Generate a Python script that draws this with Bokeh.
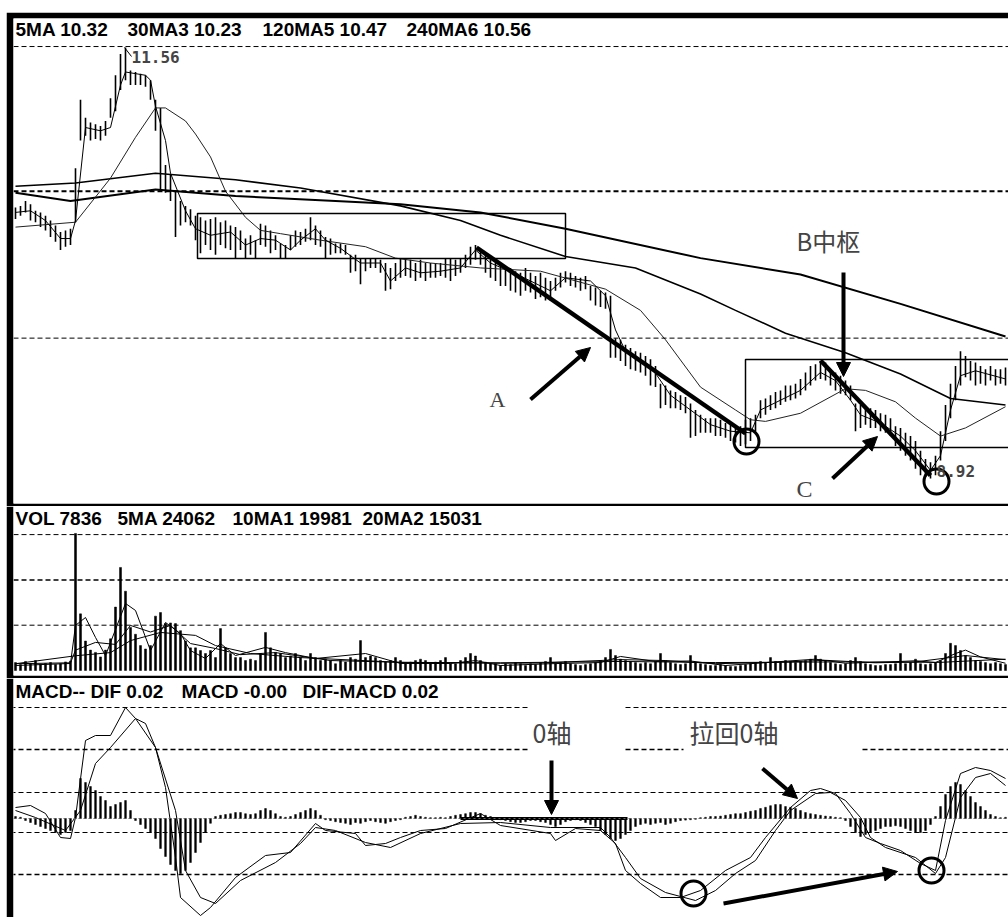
from bokeh.plotting import figure
from bokeh.layouts import column, row
from bokeh.models import Range1d, Span, Label, Arrow, NormalHead, BoxAnnotation, Spacer
from bokeh.embed import file_html
from bokeh.resources import INLINE

# ---------------- price bars (high / low) ----------------
high = [10.58, 10.59, 10.62, 10.60, 10.56, 10.55, 10.53, 10.50, 10.47, 10.43,
        10.44, 10.45, 10.82, 11.24, 11.13, 11.10, 11.09, 11.08, 11.11, 11.25,
        11.39, 11.52, 11.56, 11.42, 11.41, 11.40, 11.39, 11.36, 11.24, 11.19,
        10.84, 10.78, 10.68, 10.62, 10.59, 10.57, 10.53, 10.52, 10.50, 10.51,
        10.52, 10.49, 10.50, 10.47, 10.46, 10.44, 10.39, 10.41, 10.38, 10.48,
        10.47, 10.44, 10.41, 10.36, 10.35, 10.41, 10.44, 10.43, 10.45, 10.52,
        10.47, 10.44, 10.40, 10.39, 10.36, 10.36, 10.35, 10.29, 10.29, 10.27,
        10.27, 10.27, 10.27, 10.26, 10.24, 10.21, 10.24, 10.27, 10.27, 10.26,
        10.24, 10.26, 10.24, 10.24, 10.24, 10.24, 10.27, 10.27, 10.26, 10.27,
        10.29, 10.34, 10.35, 10.32, 10.29, 10.27, 10.24, 10.24, 10.22, 10.21,
        10.19, 10.18, 10.21, 10.18, 10.16, 10.18, 10.15, 10.13, 10.15, 10.18,
        10.19, 10.18, 10.16, 10.15, 10.16, 10.10, 10.09, 10.07, 10.06, 10.04,
        9.78, 9.77, 9.74, 9.72, 9.70, 9.69, 9.67, 9.65, 9.61, 9.50,
        9.49, 9.46, 9.45, 9.43, 9.42, 9.38, 9.34, 9.31, 9.29, 9.29,
        9.29, 9.28, 9.26, 9.26, 9.24, 9.24, 9.28, 9.29, 9.31, 9.40,
        9.41, 9.43, 9.45, 9.46, 9.49, 9.49, 9.50, 9.53, 9.57, 9.61,
        9.62, 9.64, 9.63, 9.59, 9.57, 9.55, 9.52, 9.49, 9.38, 9.37,
        9.36, 9.35, 9.34, 9.32, 9.31, 9.29, 9.24, 9.23, 9.20, 9.18,
        9.15, 9.09, 9.04, 9.02, 9.06, 9.21, 9.37, 9.50, 9.61, 9.70,
        9.67, 9.64, 9.63, 9.61, 9.59, 9.61, 9.59, 9.59, 9.60]
low = [10.51, 10.53, 10.55, 10.50, 10.49, 10.46, 10.44, 10.40, 10.37, 10.32,
       10.34, 10.35, 10.49, 10.99, 11.02, 10.99, 11.00, 10.99, 11.02, 11.13,
       11.17, 11.30, 11.36, 11.33, 11.33, 11.33, 11.32, 11.24, 11.05, 10.68,
       10.67, 10.62, 10.40, 10.47, 10.49, 10.47, 10.38, 10.30, 10.35, 10.32,
       10.29, 10.35, 10.33, 10.32, 10.27, 10.32, 10.27, 10.29, 10.27, 10.35,
       10.34, 10.30, 10.32, 10.27, 10.27, 10.32, 10.34, 10.35, 10.37, 10.38,
       10.35, 10.34, 10.27, 10.29, 10.30, 10.30, 10.29, 10.18, 10.19, 10.11,
       10.19, 10.21, 10.21, 10.18, 10.07, 10.08, 10.13, 10.15, 10.16, 10.15,
       10.13, 10.15, 10.13, 10.15, 10.15, 10.16, 10.15, 10.13, 10.16, 10.18,
       10.21, 10.23, 10.26, 10.23, 10.18, 10.15, 10.13, 10.10, 10.10, 10.07,
       10.06, 10.04, 10.07, 10.06, 10.02, 10.03, 10.01, 10.01, 10.07, 10.09,
       10.12, 10.10, 10.09, 10.07, 10.08, 10.01, 9.98, 9.97, 9.96, 9.66,
       9.66, 9.64, 9.61, 9.59, 9.58, 9.57, 9.55, 9.49, 9.48, 9.35,
       9.37, 9.35, 9.35, 9.34, 9.32, 9.17, 9.18, 9.20, 9.20, 9.20,
       9.18, 9.18, 9.17, 9.15, 9.14, 9.12, 9.13, 9.15, 9.21, 9.29,
       9.31, 9.34, 9.35, 9.37, 9.39, 9.40, 9.41, 9.43, 9.46, 9.49,
       9.52, 9.53, 9.52, 9.49, 9.46, 9.44, 9.43, 9.40, 9.21, 9.23,
       9.25, 9.23, 9.23, 9.21, 9.20, 9.18, 9.12, 9.09, 9.06, 9.03,
       8.98, 8.94, 8.93, 8.92, 8.94, 9.03, 9.15, 9.29, 9.40, 9.49,
       9.54, 9.52, 9.49, 9.50, 9.49, 9.52, 9.49, 9.50, 9.49]

# ---------------- price moving averages ----------------
ma5_x = [0, 3, 6, 9, 11, 12, 14, 17, 19, 21, 22, 26, 27, 28, 30, 31, 34, 36, 39, 43,
         46, 49, 52, 55, 57, 60, 62, 65, 69, 73, 75, 78, 81, 85, 89, 92, 95, 101, 107, 110,
         115, 118, 120, 122, 127, 131, 135, 139, 143, 147, 149, 153, 157, 161, 164, 167, 169,
         173, 177, 180, 183, 185, 187, 189, 192, 198]
ma5_y = [10.55, 10.56, 10.50, 10.39, 10.39, 10.50, 11.07, 11.05, 11.07, 11.33,
         11.41, 11.39, 11.36, 11.20, 10.99, 10.79, 10.56, 10.45, 10.41, 10.43,
         10.35, 10.39, 10.38, 10.32, 10.38, 10.45, 10.38, 10.33, 10.24, 10.24,
         10.13, 10.21, 10.18, 10.19, 10.21, 10.32, 10.24, 10.16, 10.07, 10.15,
         10.13, 10.04, 9.83, 9.70, 9.61, 9.43, 9.34, 9.25, 9.21, 9.20,
         9.34, 9.40, 9.46, 9.57, 9.52, 9.40, 9.31, 9.26, 9.18, 9.09,
         8.97, 9.06, 9.34, 9.55, 9.58, 9.53]
ma30_x = [0, 12, 19, 24, 28, 30, 34, 36, 39, 42, 46, 49, 53, 61, 70, 76, 83, 93, 105, 118,
          125, 130, 137, 144, 147, 150, 157, 166, 170, 176, 180, 185, 190, 198]
ma30_y = [10.46, 10.49, 10.76, 11.01, 11.19, 11.19, 11.11, 11.03, 10.89, 10.68,
          10.52, 10.44, 10.42, 10.38, 10.34, 10.27, 10.24, 10.21, 10.19, 10.08,
          9.95, 9.77, 9.48, 9.34, 9.28, 9.27, 9.32, 9.47, 9.46, 9.39,
          9.29, 9.18, 9.23, 9.36]
ma120_x = [0, 12, 28, 44, 57, 77, 89, 97, 110, 124, 137, 144, 154, 166, 177, 187, 198]
ma120_y = [10.71, 10.73, 10.79, 10.75, 10.70, 10.59, 10.50, 10.41, 10.28, 10.21,
           10.05, 9.95, 9.81, 9.69, 9.56, 9.41, 9.37]
ma240_x = [0, 11, 28, 44, 64, 77, 93, 110, 137, 157, 177, 198]
ma240_y = [10.67, 10.62, 10.69, 10.65, 10.62, 10.60, 10.55, 10.45, 10.27, 10.17, 9.99, 9.79]
price_grid = [11.566, 10.68, 9.78]

# ---------------- volume ----------------
volume = [3500, 2600, 4000, 3000, 4400, 2800, 3100, 3500, 2700, 3000,
          3800, 4200, 60500, 25000, 13000, 9000, 8000, 6000, 9000, 14000,
          28000, 45500, 35000, 19000, 16000, 11000, 9500, 11000, 24000, 25600,
          20700, 21000, 20700, 17600, 13000, 10000, 10000, 8800, 7500, 8800,
          5700, 18500, 10000, 7500, 5700, 5700, 4400, 5000, 4400, 7500,
          16800, 10000, 8000, 7500, 5700, 6400, 7500, 5700, 4400, 7500,
          5700, 4400, 5000, 4400, 3000, 4400, 3700, 5700, 5000, 13200,
          5700, 6400, 5700, 4400, 3700, 4400, 5700, 4400, 3000, 3700,
          4400, 5000, 4400, 3000, 3700, 4400, 5700, 3000, 3000, 4400,
          5700, 7500, 6400, 4400, 3700, 3000, 3000, 2200, 3000, 2600,
          3500, 3000, 2200, 3000, 2600, 3500, 4000, 5700, 3000, 3500,
          4000, 3000, 2600, 2200, 2600, 3000, 3500, 4400, 5700, 9300,
          6600, 5000, 4400, 4000, 3500, 3000, 3500, 3000, 4000, 7500,
          4400, 3500, 3000, 2600, 3000, 6600, 3500, 3000, 2600, 2200,
          2200, 2600, 2200, 1800, 1800, 2200, 2600, 3000, 3500, 4000,
          3500, 5700, 4000, 3500, 4400, 4000, 3500, 4000, 4400, 5000,
          6600, 5000, 4400, 3500, 3000, 2600, 3000, 4400, 5700, 4000,
          3000, 2600, 2200, 2200, 2600, 2600, 3000, 7500, 3000, 3500,
          5000, 3000, 2600, 3000, 3500, 4400, 7500, 12000, 11000, 8800,
          6600, 5700, 4400, 4000, 3500, 3000, 3500, 3000, 2600]
vma5_x = [0, 11, 12, 14, 16, 18, 22, 24, 27, 30, 33, 35, 38, 41, 44, 50, 54, 60, 70, 77,
          87, 92, 97, 107, 117, 121, 128, 135, 142, 150, 160, 166, 170, 177, 180, 184, 188,
          190, 193, 198]
vma5_y = [2200, 3100, 19900, 23400, 14600, 6600, 29600, 26500, 8800, 21200,
          16300, 8800, 5300, 11900, 6600, 10200, 7900, 5300, 7500, 3100,
          3100, 4400, 2200, 3000, 3500, 6200, 4000, 4200, 2200, 3500,
          5000, 3200, 3500, 4000, 4300, 3500, 7500, 9000, 6000, 3200]
vma10_x = [0, 11, 12, 16, 20, 23, 27, 31, 35, 40, 45, 52, 63, 77, 97, 105, 121, 130, 140,
           152, 162, 172, 180, 190, 198]
vma10_y = [3000, 3400, 9000, 12400, 11500, 19900, 17000, 19900, 11900, 9700,
           7000, 7900, 4400, 3600, 3200, 3300, 4800, 4400, 3000, 3600,
           4500, 3400, 3800, 6600, 4800]
vma20_x = [0, 12, 19, 23, 29, 36, 40, 47, 57, 77, 97, 121, 140, 165, 185, 198]
vma20_y = [3000, 6500, 7900, 13200, 16800, 15500, 11000, 7500, 5700, 3600,
           3400, 4000, 3500, 3800, 3600, 5000]
vol_grid = [60000, 40000, 20000]

# ---------------- MACD ----------------
macd_hist = [0.005, 0.003, -0.005, -0.01, -0.015, -0.02, -0.025, -0.03, -0.035, -0.04,
             -0.035, -0.03, 0.02, 0.1, 0.09, 0.08, 0.07, 0.055, 0.045, 0.03,
             0.035, 0.04, 0.045, 0.02, -0.005, -0.015, -0.025, -0.035, -0.05, -0.075,
             -0.095, -0.115, -0.13, -0.1375, -0.13, -0.11, -0.085, -0.06, -0.035, -0.012,
             0.005, 0.008, 0.01, 0.012, 0.015, 0.015, 0.012, 0.01, 0.012, 0.02,
             0.025, 0.02, 0.012, 0.005, 0.003, 0.005, 0.01, 0.015, 0.02, 0.025,
             0.02, 0.008, -0.003, -0.005, -0.008, -0.01, -0.012, -0.015, -0.01, -0.012,
             -0.008, -0.005, -0.008, -0.01, -0.012, -0.008, -0.005, -0.003, 0.003, 0.005,
             0.008, 0.005, 0.003, 0.002, 0.002, 0.003, 0.002, 0.005, 0.008, 0.01,
             0.012, 0.015, 0.015, 0.012, 0.008, 0.005, 0.002, -0.003, -0.005, -0.008,
             -0.01, -0.01, -0.008, -0.005, -0.005, -0.008, -0.01, -0.015, -0.02, -0.015,
             -0.008, -0.005, -0.003, -0.005, -0.01, -0.015, -0.02, -0.03, -0.04, -0.05,
             -0.055, -0.05, -0.04, -0.03, -0.02, -0.015, -0.012, -0.015, -0.012, -0.01,
             -0.015, -0.012, -0.008, -0.005, -0.004, -0.003, -0.002, 0.002, 0.003, 0.005,
             0.005, 0.006, 0.008, 0.01, 0.012, 0.012, 0.015, 0.018, 0.02, 0.025,
             0.028, 0.032, 0.035, 0.035, 0.03, 0.028, 0.025, 0.02, 0.015, 0.012,
             0.01, 0.008, 0.006, 0.005, 0.003, 0.002, -0.005, -0.02, -0.035, -0.045,
             -0.04, -0.035, -0.03, -0.025, -0.02, -0.02, -0.018, -0.02, -0.025, -0.03,
             -0.035, -0.035, -0.03, -0.015, 0.005, 0.03, 0.06, 0.08, 0.09, 0.085,
             0.07, 0.055, 0.04, 0.03, 0.02, 0.01, 0.005, 0.002, 0.003]
dif_x = [0, 3, 6, 9, 11, 12, 14, 16, 19, 22, 24, 28, 30, 32, 33, 37, 39, 44, 50, 55,
         60, 62, 68, 70, 74, 77, 81, 86, 93, 97, 107, 108, 112, 117, 120, 122, 125, 129, 133,
         137, 142, 147, 150, 155, 159, 161, 164, 167, 170, 173, 177, 181, 184, 186, 189, 192,
         195, 198]
dif_y = [0.0275, 0.0325, 0.0125, -0.0475, -0.05, 0.0025, 0.195, 0.2075, 0.2075, 0.2775,
         0.25, 0.1775, 0.0775, -0.0975, -0.1975, -0.2425, -0.2225, -0.1475, -0.0925, -0.085,
         -0.0125, -0.03, -0.0375, -0.0675, -0.0625, -0.0475, -0.03, -0.025, 0.0125, -0.0175,
         -0.0375, -0.055, -0.025, -0.03, -0.0625, -0.13, -0.1625, -0.1975, -0.1975, -0.18,
         -0.13, -0.0975, -0.0475, 0.0275, 0.07, 0.075, 0.0625, 0.0125, -0.0475, -0.0625,
         -0.08, -0.1125, -0.13, -0.005, 0.1125, 0.1275, 0.12, 0.10]
dea_x = [0, 4, 10, 13, 16, 19, 24, 26, 28, 32, 34, 37, 40, 45, 52, 57, 60, 64, 70, 75,
         81, 89, 97, 107, 117, 119, 122, 125, 130, 136, 140, 144, 148, 152, 155, 160, 163,
         166, 169, 171, 174, 180, 184, 186, 189, 192, 195, 198]
dea_y = [0.02, 0.0025, -0.03, 0.02, 0.1375, 0.1775, 0.25, 0.2375, 0.1775, 0.02,
         -0.13, -0.1975, -0.2125, -0.155, -0.11, -0.0625, -0.0225, -0.03, -0.06, -0.0725,
         -0.0375, -0.0125, -0.01, -0.0225, -0.0225, -0.0475, -0.0975, -0.15, -0.185, -0.205,
         -0.18, -0.1375, -0.105, -0.03, 0.02, 0.0625, 0.065, 0.045, 0.0025, -0.0475,
         -0.0725, -0.0975, -0.1375, -0.0975, 0.0525, 0.1025, 0.1125, 0.0825]
macd_grid = [0.2775, 0.1725, 0.065, -0.035, -0.14]

# ---------------- helpers for annotation placement ----------------
def bx(px):
    return (px - 15) / 5.0


def bp(py):
    return 11.848 - 0.006125 * py


def bv(py):
    return (670 - py) * 441.5


def bm(py):
    return (818 - py) * 0.0025


W = 1002
XR = Range1d(-0.4, 198.6)
idx = list(range(len(high)))
TITLE_FONT = "Liberation Sans"
CJK = "Noto Sans CJK SC"


def make_fig(h, yr, top, bottom):
    p = figure(width=W, height=h, x_range=XR, y_range=yr, output_backend="svg",
               toolbar_location=None, min_border_left=7, min_border_right=0,
               min_border_top=top, min_border_bottom=bottom,
               border_fill_color="black", background_fill_color="white",
               outline_line_color=None, x_axis_location=None, y_axis_location=None)
    p.grid.visible = False
    return p


def title(p, x, y, text):
    p.add_layout(Label(x=x, y=y, text=text, text_font=TITLE_FONT, text_font_style="bold",
                       text_font_size="19px", text_baseline="middle", text_align="left",
                       text_color="black"))


def arrow(p, x0, y0, x1, y1, lw=4, size=14):
    p.add_layout(Arrow(end=NormalHead(size=size, fill_color="black", line_color="black",
                                      line_width=1),
                       x_start=x0, y_start=y0, x_end=x1, y_end=y1,
                       line_width=lw, line_color="black"))


# ================= price panel =================
p1 = make_fig(494, Range1d(bp(503), bp(18)), 6, 3)
for i, g in enumerate(price_grid):
    p1.add_layout(Span(location=g, dimension="width", line_color="black",
                       line_dash="5 3", line_width=2 if i == 1 else 1))
p1.segment(x0=idx, y0=low, x1=idx, y1=high, line_color="black", line_width=1.6)
p1.line(ma240_x, ma240_y, line_color="black", line_width=2)
p1.line(ma120_x, ma120_y, line_color="black", line_width=1.6)
p1.line(ma30_x, ma30_y, line_color="#222222", line_width=1)
p1.line(ma5_x, ma5_y, line_color="black", line_width=1)

title(p1, bx(15), bp(29), "5MA 10.32")
title(p1, bx(127), bp(29), "30MA3 10.23")
title(p1, bx(262), bp(29), "120MA5 10.47")
title(p1, bx(406), bp(29), "240MA6 10.56")

p1.add_layout(BoxAnnotation(left=bx(197), right=bx(565), top=bp(213), bottom=bp(258),
                            fill_color=None, line_color="black", line_alpha=1,
                            line_width=1.5))
p1.add_layout(BoxAnnotation(left=bx(745), right=bx(1012), top=bp(359), bottom=bp(447),
                            fill_color=None, line_color="black", line_alpha=1,
                            line_width=1.5))

p1.line([bx(476), bx(745)], [bp(247), bp(433)], line_color="black", line_width=4.5)
p1.line([bx(820), bx(930)], [bp(360), bp(475)], line_color="black", line_width=4.5)
p1.line([bx(124), bx(131)], [bp(47), bp(56)], line_color="black", line_width=1)

arrow(p1, bx(530), bp(399), bx(590), bp(347))
arrow(p1, bx(832), bp(478), bx(877), bp(436))
arrow(p1, bx(843), bp(272), bx(843), bp(376))

p1.scatter(x=[bx(746), bx(936)], y=[bp(441), bp(481)], marker="circle", size=25,
           fill_color=None, line_color="black", line_width=3)

p1.add_layout(Label(x=bx(131), y=bp(56), text="11.56", text_font="DejaVu Sans Mono",
                    text_font_style="bold", text_font_size="16px", text_baseline="middle"))
p1.add_layout(Label(x=bx(936), y=bp(470), text="8.92", text_font="DejaVu Sans Mono",
                    text_font_style="bold", text_font_size="16px", text_baseline="middle"))
p1.add_layout(Label(x=bx(489), y=bp(399), text="A", text_font="Liberation Serif",
                    text_font_size="22px", text_baseline="middle"))
p1.add_layout(Label(x=bx(796), y=bp(488), text="C", text_font="Liberation Serif",
                    text_font_size="24px", text_baseline="middle"))
p1.add_layout(Label(x=bx(796), y=bp(240), text="B中枢", text_font=CJK,
                    text_font_size="24px", text_baseline="middle"))

# ================= volume panel =================
p2 = make_fig(172, Range1d(bv(675), bv(506)), 0, 3)
for i, g in enumerate(vol_grid):
    p2.add_layout(Span(location=g, dimension="width", line_color="black",
                       line_dash="5 3", line_width=1.5 if i == 1 else 1))
p2.vbar(x=idx, top=volume, bottom=0, width=0.4, fill_color="black", line_color="black",
        line_width=0.5)
p2.line(vma5_x, vma5_y, line_color="black", line_width=1)
p2.line(vma10_x, vma10_y, line_color="black", line_width=1)
p2.line(vma20_x, vma20_y, line_color="black", line_width=1)
title(p2, bx(15), bv(518), "VOL 7836")
title(p2, bx(117), bv(518), "5MA 24062")
title(p2, bx(232), bv(518), "10MA1 19981")
title(p2, bx(362), bv(518), "20MA2 15031")

# ================= MACD panel =================
p3 = make_fig(239, Range1d(bm(917), bm(678)), 0, 0)
gx0 = [bx(10), bx(625), bx(10), bx(625), bx(862), bx(10), bx(10), bx(10)]
gx1 = [bx(528), bx(1012), bx(528), bx(683), bx(1012), bx(1012), bx(1012), bx(1012)]
gy = [macd_grid[0], macd_grid[0], macd_grid[1], macd_grid[1], macd_grid[1],
      macd_grid[2], macd_grid[3], macd_grid[4]]
gw = [1, 1, 1.6, 1.6, 1.6, 1, 1, 1.6]
p3.segment(x0=gx0, y0=gy, x1=gx1, y1=gy, line_color="black", line_dash="5 3",
           line_width=gw)
p3.add_layout(Span(location=0, dimension="width", line_color="#666666",
                   line_dash="2 3", line_width=1))
p3.vbar(x=idx, top=macd_hist, bottom=0, width=0.35, fill_color="black",
        line_color="black", line_width=0.5)
p3.line(dif_x, dif_y, line_color="black", line_width=1)
p3.line(dea_x, dea_y, line_color="black", line_width=1)

title(p3, bx(15), bm(691), "MACD-- DIF 0.02")
title(p3, bx(181), bm(691), "MACD -0.00")
title(p3, bx(302), bm(691), "DIF-MACD 0.02")

p3.line([bx(460), bx(627)], [bm(818), bm(818)], line_color="black", line_width=3)
arrow(p3, bx(551), bm(760), bx(551), bm(814))
arrow(p3, bx(762), bm(768), bx(797), bm(798))
arrow(p3, bx(723), bm(903), bx(897), bm(871))
p3.scatter(x=[bx(693), bx(931)], y=[bm(893), bm(870)], marker="circle", size=25,
           fill_color=None, line_color="black", line_width=3)
p3.add_layout(Label(x=bx(532), y=bm(731), text="0轴", text_font=CJK,
                    text_font_size="25px", text_baseline="middle"))
p3.add_layout(Label(x=bx(689), y=bm(731), text="拉回0轴", text_font=CJK,
                    text_font_size="25px", text_baseline="middle"))

layout = row(Spacer(width=6, height=917),
             column(Spacer(width=W, height=12), p1, p2, p3))
open("out.html", "w").write(file_html(layout, INLINE))
